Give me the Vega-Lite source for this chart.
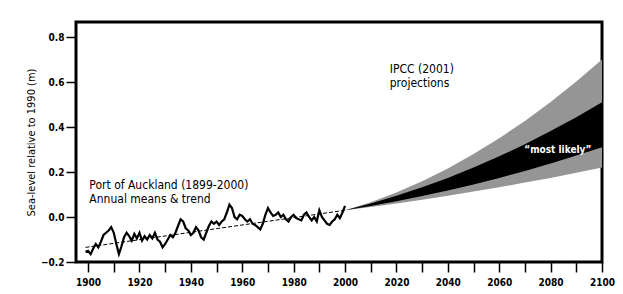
{
  "$schema": "https://vega.github.io/schema/vega-lite/v6.json",
  "width": 526,
  "height": 240,
  "autosize": {"type": "none"},
  "padding": {"left": 76, "top": 22, "right": 21, "bottom": 32},
  "background": "white",
  "config": {
    "view": {"stroke": "black", "strokeWidth": 3},
    "axis": {
      "domain": false,
      "grid": false,
      "tickColor": "black",
      "tickWidth": 1.5,
      "tickSize": 10,
      "labelColor": "black",
      "labelFont": "DejaVu Sans Condensed, Liberation Sans, sans-serif",
      "labelFontWeight": "bold",
      "labelFontSize": 10,
      "titleColor": "black",
      "titleFont": "DejaVu Sans Condensed, Liberation Sans, sans-serif",
      "titleFontWeight": "normal",
      "titleFontSize": 11
    }
  },
  "datasets": {
    "obs": [
      {"year": 1899, "level": -0.155}, {"year": 1900, "level": -0.15}, {"year": 1901, "level": -0.165},
      {"year": 1902, "level": -0.14}, {"year": 1903, "level": -0.12}, {"year": 1904, "level": -0.135},
      {"year": 1905, "level": -0.11}, {"year": 1906, "level": -0.08}, {"year": 1907, "level": -0.07},
      {"year": 1908, "level": -0.06}, {"year": 1909, "level": -0.045}, {"year": 1910, "level": -0.07},
      {"year": 1911, "level": -0.12}, {"year": 1912, "level": -0.165}, {"year": 1913, "level": -0.13},
      {"year": 1914, "level": -0.09}, {"year": 1915, "level": -0.07}, {"year": 1916, "level": -0.085},
      {"year": 1917, "level": -0.105}, {"year": 1918, "level": -0.075}, {"year": 1919, "level": -0.095},
      {"year": 1920, "level": -0.07}, {"year": 1921, "level": -0.105}, {"year": 1922, "level": -0.085},
      {"year": 1923, "level": -0.1}, {"year": 1924, "level": -0.08}, {"year": 1925, "level": -0.095},
      {"year": 1926, "level": -0.07}, {"year": 1927, "level": -0.1}, {"year": 1928, "level": -0.11},
      {"year": 1929, "level": -0.135}, {"year": 1930, "level": -0.12}, {"year": 1931, "level": -0.1},
      {"year": 1932, "level": -0.08}, {"year": 1933, "level": -0.09}, {"year": 1934, "level": -0.07},
      {"year": 1935, "level": -0.04}, {"year": 1936, "level": -0.01}, {"year": 1937, "level": -0.02},
      {"year": 1938, "level": -0.05}, {"year": 1939, "level": -0.06}, {"year": 1940, "level": -0.08},
      {"year": 1941, "level": -0.07}, {"year": 1942, "level": -0.045}, {"year": 1943, "level": -0.06},
      {"year": 1944, "level": -0.09}, {"year": 1945, "level": -0.1}, {"year": 1946, "level": -0.07},
      {"year": 1947, "level": -0.04}, {"year": 1948, "level": -0.02}, {"year": 1949, "level": -0.03},
      {"year": 1950, "level": -0.02}, {"year": 1951, "level": -0.035}, {"year": 1952, "level": -0.02},
      {"year": 1953, "level": -0.01}, {"year": 1954, "level": 0.02}, {"year": 1955, "level": 0.055},
      {"year": 1956, "level": 0.04}, {"year": 1957, "level": 0.0}, {"year": 1958, "level": -0.01},
      {"year": 1959, "level": 0.01}, {"year": 1960, "level": 0.005}, {"year": 1961, "level": -0.01},
      {"year": 1962, "level": -0.02}, {"year": 1963, "level": -0.01}, {"year": 1964, "level": -0.03},
      {"year": 1965, "level": -0.035}, {"year": 1966, "level": -0.045}, {"year": 1967, "level": -0.055},
      {"year": 1968, "level": -0.03}, {"year": 1969, "level": 0.01}, {"year": 1970, "level": 0.04},
      {"year": 1971, "level": 0.02}, {"year": 1972, "level": 0.005}, {"year": 1973, "level": 0.01},
      {"year": 1974, "level": 0.02}, {"year": 1975, "level": 0.0}, {"year": 1976, "level": 0.01},
      {"year": 1977, "level": -0.01}, {"year": 1978, "level": -0.02}, {"year": 1979, "level": 0.0},
      {"year": 1980, "level": 0.01}, {"year": 1981, "level": -0.005}, {"year": 1982, "level": -0.01},
      {"year": 1983, "level": -0.015}, {"year": 1984, "level": 0.01}, {"year": 1985, "level": 0.02},
      {"year": 1986, "level": 0.0}, {"year": 1987, "level": -0.015}, {"year": 1988, "level": 0.0},
      {"year": 1989, "level": -0.02}, {"year": 1990, "level": 0.03}, {"year": 1991, "level": 0.0},
      {"year": 1992, "level": -0.015}, {"year": 1993, "level": -0.03}, {"year": 1994, "level": -0.035},
      {"year": 1995, "level": -0.02}, {"year": 1996, "level": -0.01}, {"year": 1997, "level": 0.01},
      {"year": 1998, "level": -0.005}, {"year": 1999, "level": 0.02}, {"year": 2000, "level": 0.05}
    ],
    "trend": [
      {"year": 1899, "level": -0.135},
      {"year": 2000, "level": 0.03}
    ],
    "proj": [
      {"year": 2000, "outerLo": 0.03, "outerHi": 0.03, "likelyLo": 0.03, "likelyHi": 0.03},
      {"year": 2010, "outerLo": 0.045, "outerHi": 0.066, "likelyLo": 0.049, "likelyHi": 0.06},
      {"year": 2020, "outerLo": 0.06, "outerHi": 0.109, "likelyLo": 0.07, "likelyHi": 0.094},
      {"year": 2030, "outerLo": 0.077, "outerHi": 0.159, "likelyLo": 0.093, "likelyHi": 0.132},
      {"year": 2040, "outerLo": 0.094, "outerHi": 0.216, "likelyLo": 0.118, "likelyHi": 0.174},
      {"year": 2050, "outerLo": 0.113, "outerHi": 0.28, "likelyLo": 0.145, "likelyHi": 0.22},
      {"year": 2060, "outerLo": 0.132, "outerHi": 0.35, "likelyLo": 0.174, "likelyHi": 0.27},
      {"year": 2070, "outerLo": 0.153, "outerHi": 0.427, "likelyLo": 0.205, "likelyHi": 0.324},
      {"year": 2080, "outerLo": 0.174, "outerHi": 0.511, "likelyLo": 0.238, "likelyHi": 0.382},
      {"year": 2090, "outerLo": 0.197, "outerHi": 0.602, "likelyLo": 0.273, "likelyHi": 0.444},
      {"year": 2100, "outerLo": 0.22, "outerHi": 0.7, "likelyLo": 0.31, "likelyHi": 0.51}
    ],
    "labels": [
      {"text": "Port of Auckland (1899-2000)", "year": 1900.5, "level": 0.124},
      {"text": "Annual means & trend", "year": 1900.5, "level": 0.062},
      {"text": "IPCC (2001)", "year": 2017.4, "level": 0.64},
      {"text": "projections", "year": 2017.4, "level": 0.578}
    ],
    "inner": [
      {"text": "“most likely”", "year": 2082.8, "level": 0.3}
    ]
  },
  "encoding": {
    "x": {
      "field": "year",
      "type": "quantitative",
      "scale": {"domain": [1895.3, 2100], "nice": false, "zero": false},
      "axis": {
        "title": null,
        "values": [1900, 1910, 1920, 1930, 1940, 1950, 1960, 1970, 1980, 1990, 2000, 2010, 2020, 2030, 2040, 2050, 2060, 2070, 2080, 2090, 2100],
        "labelExpr": "datum.value % 20 == 0 ? datum.value : ''",
        "labelPadding": 5,
        "labelFlush": false
      }
    },
    "y": {
      "field": "level",
      "type": "quantitative",
      "scale": {"domain": [-0.2, 0.867], "nice": false, "zero": false},
      "axis": {
        "title": "Sea-level relative to 1990 (m)",
        "values": [-0.2, 0, 0.2, 0.4, 0.6, 0.8],
        "format": ".1f",
        "labelPadding": 2,
        "titlePadding": 4,
        "labelFlush": false
      }
    }
  },
  "layer": [
    {
      "data": {"name": "proj"},
      "mark": {"type": "area", "color": "#959595"},
      "encoding": {"y": {"field": "outerLo", "type": "quantitative"}, "y2": {"field": "outerHi"}}
    },
    {
      "data": {"name": "proj"},
      "mark": {"type": "area", "color": "black"},
      "encoding": {"y": {"field": "likelyLo", "type": "quantitative"}, "y2": {"field": "likelyHi"}}
    },
    {
      "data": {"name": "trend"},
      "mark": {"type": "line", "color": "black", "strokeWidth": 1, "strokeDash": [4, 2]},
      "encoding": {}
    },
    {
      "data": {"name": "obs"},
      "mark": {"type": "line", "color": "black", "strokeWidth": 2.2, "strokeJoin": "miter"},
      "encoding": {}
    },
    {
      "data": {"name": "labels"},
      "mark": {"type": "text", "align": "left", "baseline": "alphabetic", "font": "DejaVu Sans Condensed, Liberation Sans, sans-serif", "fontSize": 12, "color": "black"},
      "encoding": {"text": {"field": "text"}}
    },
    {
      "data": {"name": "inner"},
      "mark": {"type": "text", "align": "center", "baseline": "middle", "font": "DejaVu Sans Condensed, Liberation Sans, sans-serif", "fontSize": 10, "fontWeight": "bold", "color": "white"},
      "encoding": {"text": {"field": "text"}}
    }
  ]
}
